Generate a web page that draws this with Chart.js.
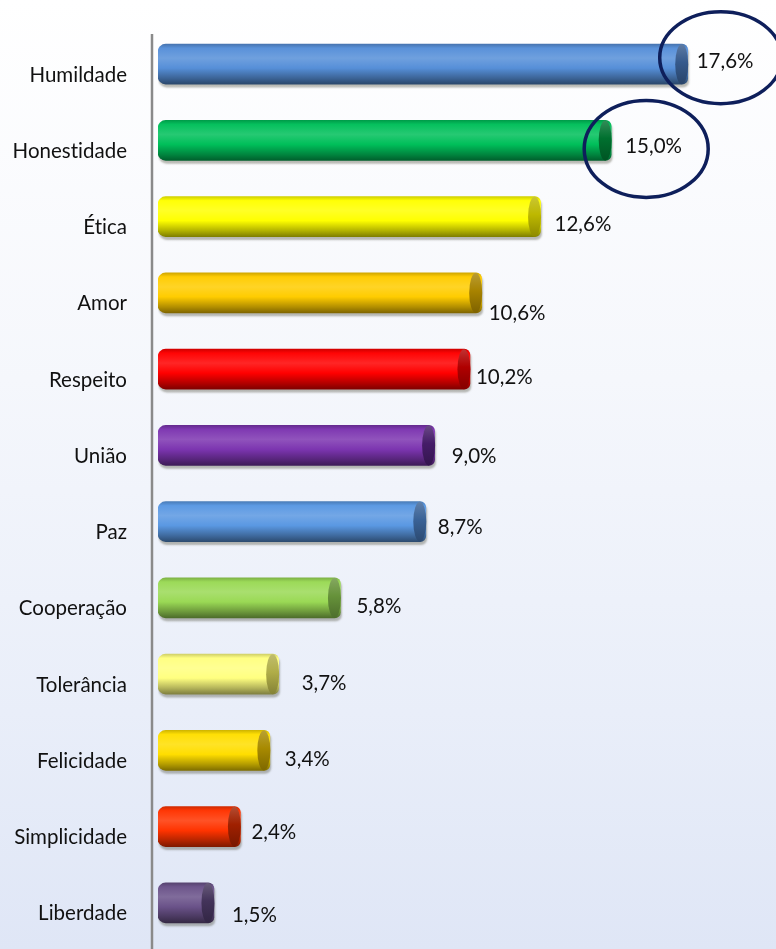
<!DOCTYPE html>
<html><head><meta charset="utf-8">
<script src="https://cdn.jsdelivr.net/npm/chart.js@4/dist/chart.umd.min.js"></script>
<style>
html,body{margin:0;padding:0;}
body{width:776px;height:949px;overflow:hidden;background:linear-gradient(to bottom,#ffffff 0%,#f5f7fc 40%,#e9eef9 75%,#dfe6f6 100%);}
canvas{display:block;}
</style></head><body>
<canvas id="c" width="776" height="949"></canvas>
<script>
// ---- data ----
const categories = ['Humildade','Honestidade','Ética','Amor','Respeito','União','Paz','Cooperação','Tolerância','Felicidade','Simplicidade','Liberdade'];
const values = [17.6, 15.0, 12.6, 10.6, 10.2, 9.0, 8.7, 5.8, 3.7, 3.4, 2.4, 1.5];
const highlighted = [0, 1];

// ---- styles ----
const barColors = ['#568fd8','#00bf5a','#ffff00','#ffcc00','#ff0000','#7c35b0','#5a98e2','#9ad955','#ffff80','#ffde00','#ff3300','#6a5289'];
const capColors = ['#365a8c','#00702f','#bdb800','#a88300','#b00000','#451c68','#3a6296','#66923a','#b0ad48','#a88a00','#a02000','#43335a'];
const labelDx = [9, 14, 14, 7, 6, 17, 12, 16, 23, 15, 11, 18];
const labelDy = [-3, 6, 8, 21, 8, 11, 6, 9, 9, 9, 6, 13];
const ellipseDx = [33, 35];
const ellipseDy = [-6.5, 8.5];
const ellipseR = [[61, 46], [62, 48.5]];
const FONT_SIZE = 20.5;

function shade(hex, f) {
  const n = parseInt(hex.slice(1), 16);
  let r = n >> 16, g = (n >> 8) & 255, b = n & 255;
  if (f < 0) { r = r * (1 + f); g = g * (1 + f); b = b * (1 + f); }
  else { r = r + (255 - r) * f; g = g + (255 - g) * f; b = b + (255 - b) * f; }
  return 'rgb(' + Math.round(r) + ',' + Math.round(g) + ',' + Math.round(b) + ')';
}
const fmt = v => v.toFixed(1).replace('.', ',') + '%';

const decor = {
  id: 'decor',
  beforeDraw(chart) {
    try { chart.ctx.letterSpacing = '0.01px'; } catch (e) {}
  },
  beforeDatasetsDraw(chart) {
    const ctx = chart.ctx, ca = chart.chartArea;
    ctx.save();
    ctx.strokeStyle = '#8a8a8a';
    ctx.lineWidth = 2.5;
    ctx.beginPath();
    ctx.moveTo(ca.left - 6, ca.top + 8);
    ctx.lineTo(ca.left - 6, chart.height);
    ctx.stroke();
    ctx.restore();
    ctx.save();
    ctx.shadowColor = 'rgba(60,60,40,0.35)';
    ctx.shadowOffsetX = 1;
    ctx.shadowOffsetY = 3;
    ctx.shadowBlur = 2;
  },
  afterDatasetsDraw(chart) {
    const ctx = chart.ctx;
    ctx.restore();
    const meta = chart.getDatasetMeta(0);
    meta.data.forEach((el, i) => {
      const h = el.height;
      const cx = el.x - 6;
      const g = ctx.createLinearGradient(0, el.y - h / 2, 0, el.y + h / 2);
      g.addColorStop(0, shade(capColors[i], 0.2));
      g.addColorStop(0.45, capColors[i]);
      g.addColorStop(1, shade(capColors[i], -0.25));
      ctx.save();
      ctx.fillStyle = g;
      ctx.beginPath();
      ctx.ellipse(cx, el.y, 6.5, h / 2, 0, 0, Math.PI * 2);
      ctx.fill();
      ctx.restore();
    });
    ctx.save();
    ctx.font = FONT_SIZE + 'px Lato';
    ctx.fillStyle = '#111111';
    ctx.textAlign = 'left';
    ctx.textBaseline = 'middle';
    meta.data.forEach((el, i) => {
      ctx.fillText(fmt(values[i]), el.x + labelDx[i], el.y + labelDy[i]);
    });
    ctx.strokeStyle = '#0e1f5b';
    ctx.lineWidth = 3.5;
    highlighted.forEach((idx, k) => {
      const el = meta.data[idx];
      ctx.beginPath();
      ctx.ellipse(el.x + ellipseDx[k], el.y + ellipseDy[k], ellipseR[k][0], ellipseR[k][1], 0, 0, Math.PI * 2);
      ctx.stroke();
    });
    ctx.restore();
  }
};

new Chart(document.getElementById('c'), {
  type: 'bar',
  data: {
    labels: categories,
    datasets: [{
      data: values,
      base: -0.4,
      barThickness: 40,
      borderWidth: 0,
      borderSkipped: false,
      borderRadius: { topLeft: 8, bottomLeft: 8, topRight: 6, bottomRight: 6 },
      backgroundColor: (c) => {
        const chart = c.chart, i = c.dataIndex;
        const base = barColors[i] || '#888';
        const ys = chart.scales && chart.scales.y;
        if (!ys || i === undefined) return base;
        const yc = ys.getPixelForValue(i);
        if (!isFinite(yc)) return base;
        const g = chart.ctx.createLinearGradient(0, yc - 20, 0, yc + 20);
        g.addColorStop(0, shade(base, -0.18));
        g.addColorStop(0.1, shade(base, 0.02));
        g.addColorStop(0.35, shade(base, 0.15));
        g.addColorStop(0.6, base);
        g.addColorStop(0.85, shade(base, -0.3));
        g.addColorStop(1, shade(base, -0.5));
        return g;
      }
    }]
  },
  options: {
    indexAxis: 'y',
    responsive: false,
    devicePixelRatio: 1,
    animation: false,
    layout: { padding: { top: 26, bottom: 8, left: 0, right: 0 } },
    plugins: { legend: { display: false }, tooltip: { enabled: false } },
    scales: {
      x: { display: false, min: -0.4, max: 20.6 },
      y: {
        grid: { display: false, drawTicks: false },
        border: { display: false },
        ticks: { font: { family: 'Lato', size: FONT_SIZE }, color: '#111111', padding: 31, labelOffset: 11 },
        afterFit(s) { s.width = 158; s.paddingTop = 0; s.paddingBottom = 0; }
      }
    }
  },
  plugins: [decor]
});
</script>
</body></html>
